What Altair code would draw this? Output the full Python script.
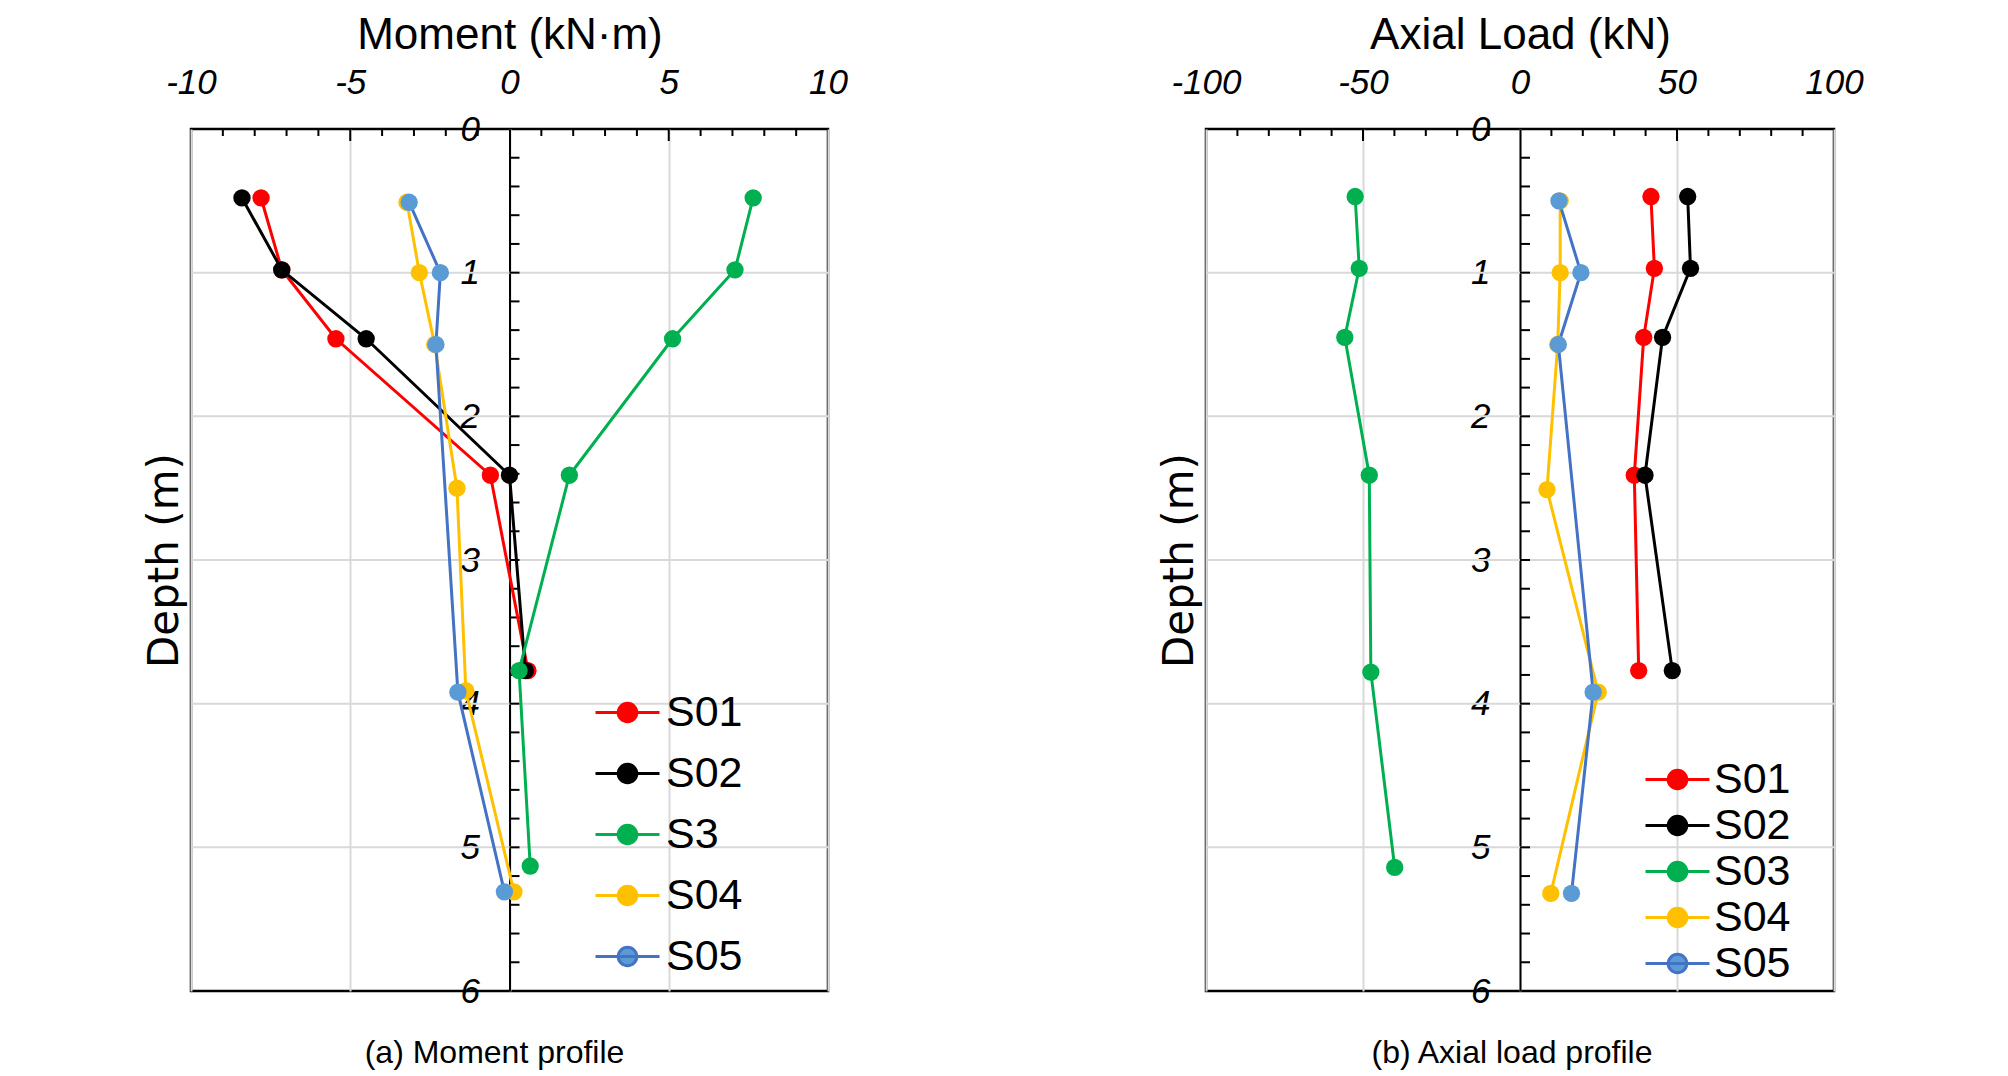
import altair as alt
import pandas as pd

# ---------------- data : moment profile ----------------
m_series = ["S01", "S02", "S3", "S04", "S05"]
m_depths = {
    "S01": [0.48, 0.98, 1.46, 2.41, 3.77],
    "S02": [0.48, 0.98, 1.46, 2.41, 3.77],
    "S3":  [0.48, 0.98, 1.46, 2.41, 3.77, 5.13],
    "S04": [0.51, 1.00, 1.50, 2.50, 3.91, 5.31],
    "S05": [0.51, 1.00, 1.50, 3.92, 5.31],
}
m_values = {
    "S01": [-7.8, -7.15, -5.45, -0.6, 0.58],
    "S02": [-8.4, -7.15, -4.5, 0.0, 0.5],
    "S3":  [7.65, 7.08, 5.12, 1.88, 0.3, 0.65],
    "S04": [-3.22, -2.83, -2.35, -1.65, -1.37, 0.14],
    "S05": [-3.15, -2.17, -2.31, -1.62, -0.16],
}

# ---------------- data : axial load profile ----------------
a_series = ["S01", "S02", "S03", "S04", "S05"]
a_depths = {
    "S01": [0.47, 0.97, 1.45, 2.41, 3.77],
    "S02": [0.47, 0.97, 1.45, 2.41, 3.77],
    "S03": [0.47, 0.97, 1.45, 2.41, 3.78, 5.14],
    "S04": [0.50, 1.00, 1.50, 2.51, 3.92, 5.32],
    "S05": [0.50, 1.00, 1.50, 3.92, 5.32],
}
a_values = {
    "S01": [41.7, 42.8, 39.4, 36.4, 37.8],
    "S02": [53.4, 54.3, 45.4, 39.8, 48.5],
    "S03": [-52.5, -51.2, -55.8, -48.0, -47.5, -39.9],
    "S04": [12.8, 12.8, 12.0, 8.6, 24.9, 9.8],
    "S05": [12.4, 19.4, 12.2, 23.3, 16.4],
}

line_colors = ["#FF0000", "#000000", "#00B050", "#FFC000", "#4472C4"]
marker_colors = ["#FF0000", "#000000", "#00B050", "#FFC000", "#5B9BD5"]

depth_labels = [0, 1, 2, 3, 4, 5, 6]
depth_grid = [1, 2, 3, 4, 5]
depth_minor = [round(0.2 * i, 1) for i in range(1, 30)]

m_major = [-10, -5, 0, 5, 10]
m_minor = [v for v in range(-9, 10) if v % 5 != 0]
m_major_inner = [-5, 5]
a_major = [-100, -50, 0, 50, 100]
a_minor = [v for v in range(-90, 100, 10) if v % 50 != 0]
a_major_inner = [-50, 50]

LABEL_FONT = "Liberation Sans"
H = 862


def long_table(series, depths, values):
    rows = []
    for s in series:
        for i, (d, v) in enumerate(zip(depths[s], values[s])):
            rows.append({"series": s, "depth": d, "value": v, "idx": i})
    return pd.DataFrame(rows)


SYMBOL = "M-2,0H2M0.58,0A0.58,0.58,0,1,1,-0.58,0A0.58,0.58,0,1,1,0.58,0Z"


def panel(df, series, xdomain, xmajor, xminor, xinner, xtitle, caption, W,
          legend_x, legend_y, row_pad, label_off, cap_dx):
    xscale = alt.Scale(domain=xdomain, nice=False, zero=False)
    yscale = alt.Scale(domain=[0, 6], reverse=True, nice=False, zero=False)
    half = W / 2.0

    x_axis = alt.Axis(
        orient="top", values=xmajor, labelExpr="datum.value + ''",
        labelFont=LABEL_FONT, labelFontSize=35, labelFontStyle="italic",
        labelColor="#000000", labelPadding=29, labelFlush=False,
        labelOverlap=False, ticks=False, tickSize=0, domain=False,
        grid=True, gridColor="#d9d9d9", gridWidth=2,
        title=xtitle, titleFont=LABEL_FONT, titleFontSize=44,
        titleFontWeight="normal", titleColor="#000000", titlePadding=8,
    )
    y_axis = alt.Axis(
        orient="left", offset=-half, values=depth_labels,
        labelExpr="datum.value + ''", labelFont=LABEL_FONT, labelFontSize=35,
        labelFontStyle="italic", labelColor="#000000", labelPadding=30,
        labelFlush=False, labelOverlap=False, ticks=False, tickSize=0,
        domain=True, domainColor="#000000", domainWidth=2, grid=False,
        title="Depth (m)", titleFont="DejaVu Sans", titleFontSize=42,
        titleFontWeight="normal", titleColor="#000000",
        titleX=-half - 27, titleY=H / 2, titleAngle=270,
        titleAlign="center", titleBaseline="middle",
    )

    leg = alt.Legend(
        title=None, orient="none", legendX=legend_x, legendY=legend_y,
        symbolType=SYMBOL, symbolSize=1024, symbolStrokeWidth=3,
        labelFont=LABEL_FONT, labelFontSize=43, labelColor="#000000",
        labelOffset=label_off, rowPadding=row_pad, padding=0,
        symbolOpacity=1,
    )

    grid_df = pd.DataFrame({"depth": depth_grid})
    hgrid = alt.Chart(grid_df).mark_rule(color="#d9d9d9", strokeWidth=2).encode(
        y=alt.Y("depth:Q", scale=yscale, axis=y_axis)
    )

    minor_df = pd.DataFrame({"value": xminor})
    top_minor = alt.Chart(minor_df).mark_rule(color="#000000", strokeWidth=2).encode(
        x=alt.X("value:Q", scale=xscale, axis=x_axis),
        y=alt.value(0), y2=alt.value(7),
    )
    inner_df = pd.DataFrame({"value": xinner})
    top_major = alt.Chart(inner_df).mark_rule(color="#000000", strokeWidth=2).encode(
        x=alt.X("value:Q", scale=xscale),
        y=alt.value(0), y2=alt.value(12),
    )
    dtick_df = pd.DataFrame({"depth": depth_minor})
    dticks = alt.Chart(dtick_df).mark_rule(color="#000000", strokeWidth=2, x2Offset=10).encode(
        x=alt.datum(0, scale=xscale), x2=alt.datum(0),
        y=alt.Y("depth:Q", scale=yscale),
    )

    lines = alt.Chart(df).mark_line(strokeWidth=3).encode(
        x=alt.X("value:Q", scale=xscale),
        y=alt.Y("depth:Q", scale=yscale),
        stroke=alt.Stroke("series:N", scale=alt.Scale(domain=series, range=line_colors),
                          legend=leg),
        order=alt.Order("idx:Q"),
        detail="series:N",
    )
    points = alt.Chart(df).mark_circle(size=300, opacity=1).encode(
        x=alt.X("value:Q", scale=xscale),
        y=alt.Y("depth:Q", scale=yscale),
        fill=alt.Fill("series:N", scale=alt.Scale(domain=series, range=marker_colors),
                      legend=leg),
    )

    return alt.layer(hgrid, top_minor, top_major, dticks, lines, points).properties(
        width=W, height=H,
        title=alt.TitleParams(
            text=caption, orient="bottom", font=LABEL_FONT, fontSize=32,
            fontWeight="normal", color="#000000", offset=29, dx=cap_dx,
            anchor="middle",
        ),
    )


m_df = long_table(m_series, m_depths, m_values)
a_df = long_table(a_series, a_depths, a_values)

left = panel(m_df, m_series, [-10, 10], m_major, m_minor, m_major_inner,
             "Moment (kN·m)", "(a) Moment profile", 637,
             legend_x=415, legend_y=562, row_pad=17, label_off=17, cap_dx=-15)
right = panel(a_df, a_series, [-100, 100], a_major, a_minor, a_major_inner,
              "Axial Load (kN)", "(b) Axial load profile", 628,
              legend_x=450, legend_y=629, row_pad=2, label_off=15, cap_dx=-8)

chart = alt.hconcat(left, right, spacing=378, bounds="flush").resolve_scale(
    x="independent", y="independent", fill="independent", stroke="independent"
).properties(
    padding={"left": 133, "top": 3, "right": 5, "bottom": 5},
    background="white",
).configure_view(
    stroke="#000000", strokeWidth=2.5
)

chart.save("out.html", embed_options={"renderer": "svg", "actions": False})
